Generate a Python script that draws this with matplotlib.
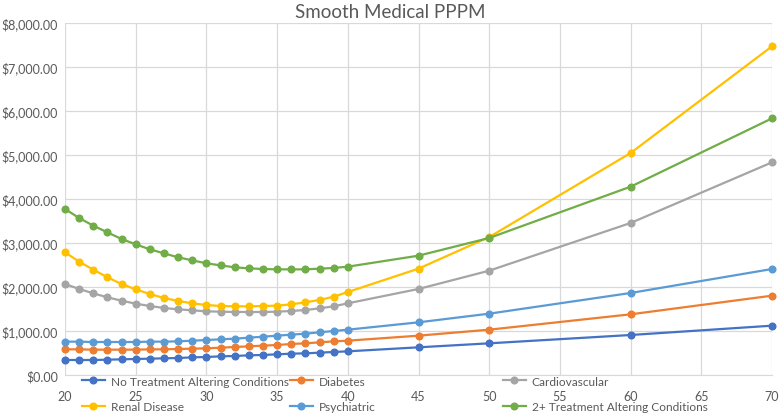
import matplotlib.pyplot as plt
from matplotlib.ticker import FuncFormatter

plt.rcParams['font.family'] = ['Lato', 'DejaVu Sans']

ages = list(range(20, 41)) + [45, 50, 60, 70]

no_treatment = [341, 341, 341, 348, 356, 364, 371, 379, 386, 401, 409, 424, 432, 447,
                455, 470, 485, 492, 508, 523, 538, 629, 720, 909, 1121]
diabetes = [583, 583, 576, 576, 576, 576, 583, 583, 591, 598, 606, 621, 636, 652,
            667, 682, 705, 720, 742, 765, 780, 894, 1030, 1379, 1803]
cardiovascular = [2068, 1955, 1856, 1765, 1689, 1621, 1568, 1523, 1492, 1470, 1447, 1439,
                  1432, 1432, 1432, 1439, 1455, 1477, 1515, 1561, 1629, 1955, 2371, 3455, 4833]
renal = [2788, 2576, 2394, 2220, 2068, 1947, 1841, 1750, 1682, 1629, 1591, 1568, 1561,
         1561, 1568, 1576, 1606, 1652, 1705, 1780, 1886, 2417, 3135, 5045, 7470]
psychiatric = [758, 758, 750, 750, 750, 750, 758, 758, 765, 780, 795, 811, 826, 848,
               871, 894, 917, 939, 970, 1000, 1030, 1197, 1394, 1864, 2409]
two_plus = [3773, 3568, 3394, 3242, 3091, 2970, 2856, 2765, 2674, 2606, 2538, 2492, 2447,
            2424, 2409, 2401, 2401, 2401, 2417, 2432, 2462, 2712, 3114, 4280, 5833]

series = [
    ("No Treatment Altering Conditions", no_treatment, "#4472C4"),
    ("Diabetes", diabetes, "#ED7D31"),
    ("Cardiovascular", cardiovascular, "#A5A5A5"),
    ("Renal Disease", renal, "#FFC000"),
    ("Psychiatric", psychiatric, "#5B9BD5"),
    ("2+ Treatment Altering Conditions", two_plus, "#70AD47"),
]

txt = "#595959"
fig = plt.figure(figsize=(7.8, 4.14), dpi=100)
ax = fig.add_axes([65 / 780, 1 - 376 / 414, 707 / 780, 352 / 414])

handles = {}
for name, vals, col in series:
    h, = ax.plot(ages, vals, color=col, lw=1.6, marker='o', ms=4.8, label=name,
                 clip_on=False, zorder=3)
    handles[name] = h

ax.set_xlim(20, 70)
ax.set_ylim(0, 8000)
ax.set_xticks(range(20, 71, 5))
ax.set_yticks(range(0, 8001, 1000))
ax.yaxis.set_major_formatter(FuncFormatter(lambda v, p: f"${v:,.2f}"))
ax.grid(True, color="#D9D9D9", lw=0.9)
ax.set_axisbelow(True)
for s in ax.spines.values():
    s.set_visible(False)
ax.spines['bottom'].set_visible(True)
ax.spines['bottom'].set_color("#D9D9D9")
ax.tick_params(length=0, colors=txt, labelsize=9)
ax.tick_params(axis='x', pad=11)
ax.tick_params(axis='y', pad=5)

fig.text(0.5, 1 - 12 / 414, "Smooth Medical PPPM", ha='center', va='center',
         fontsize=13.5, color=txt)

# Excel-style bottom legend: three equal-width columns
cols = [
    (["No Treatment Altering Conditions", "Renal Disease"], 82),
    (["Diabetes", "Psychiatric"], 290),
    (["Cardiovascular", "2+ Treatment Altering Conditions"], 503),
]
for names, x in cols:
    leg = fig.legend([handles[n] for n in names], names, loc='center left',
                     bbox_to_anchor=(x / 780, 19 / 414), frameon=False,
                     fontsize=8.6, handlelength=1.9, handletextpad=0.5,
                     labelspacing=1.25, borderpad=0, borderaxespad=0)
    for t in leg.get_texts():
        t.set_color(txt)

fig.savefig("out.png", dpi=100)
